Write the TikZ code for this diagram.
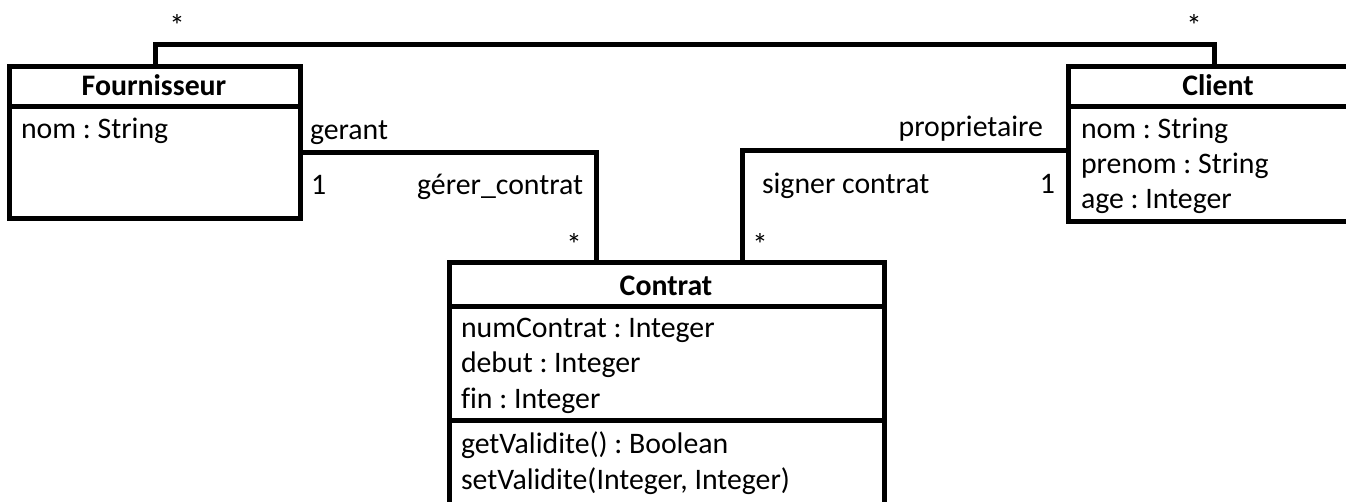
\documentclass[tikz,border=0pt]{standalone}
\usepackage{fontspec}
\setmainfont[Ligatures=NoCommon]{Carlito}
\frenchspacing
\begin{document}
\begin{tikzpicture}[x=1pt, y=-1pt,
  box/.style={draw, line width=5pt, rectangle, inner sep=0pt, outer sep=0pt, anchor=north west},
  assoc/.style={line width=5pt},
  txt/.style={inner sep=0pt, outer sep=0pt, anchor=base west, font=\fontsize{29.8}{35}\selectfont},
  txtr/.style={txt, anchor=base east},
  ttl/.style={inner sep=0pt, outer sep=0pt, anchor=base, font=\fontsize{29.8}{35}\selectfont\bfseries},
  mult/.style={inner sep=0pt, outer sep=0pt, anchor=base, font=\fontsize{31}{35}\selectfont}]
\useasboundingbox (0,0) rectangle (1346,501);
\clip (0,0) rectangle (1346,501);

% class boxes
\node[box, minimum width=291pt, minimum height=152pt] (F) at (9,66) {};
\node[box, minimum width=300pt, minimum height=155pt] (C) at (1068,66) {};
\node[box, minimum width=435pt, minimum height=250pt] (K) at (449,262) {};

% compartment separators
\draw[assoc] ([yshift=-40pt]F.north west) -- ([yshift=-40pt]F.north east);
\draw[assoc] ([yshift=-40pt]C.north west) -- ([yshift=-40pt]C.north east);
\draw[assoc] ([yshift=-44pt]K.north west) -- ([yshift=-44pt]K.north east);
\draw[assoc] ([yshift=-158pt]K.north west) -- ([yshift=-158pt]K.north east);

% class names
\node[ttl] (Fn) at (154,95) {Fournisseur};
\node[ttl] (Cn) at (1218,95) {Client};
\node[ttl] (Kn) at (666,295) {Contrat};

% attributes and operations
\node[txt] (Fa1) at (21,138) {nom : String};
\node[txt] (Ca1) at (1081,138) {nom : String};
\node[txt] (Ca2) at (1081,173) {prenom : String};
\node[txt] (Ca3) at (1081,208) {age : Integer};
\node[txt] (Ka1) at (461,337) {numContrat : Integer};
\node[txt] (Ka2) at (461,372) {debut : Integer};
\node[txt] (Ka3) at (461,408) {fin : Integer};
\node[txt] (Ko1) at (461,453) {getValidite() : Boolean};
\node[txt] (Ko2) at (461,489) {setValidite(Integer, Integer)};

% associations
\draw[assoc] ([xshift=146pt]F.north west) -- ++(0,-22) -| ([xshift=146pt]C.north west);
\draw[assoc] ([yshift=-86pt]F.north east) -| ([xshift=147pt]K.north west);
\draw[assoc] ([yshift=-84pt]C.north west) -| ([xshift=293pt]K.north west);

% association labels and multiplicities
\node[mult] (m1) at (177,36) {*};
\node[mult] (m2) at (1194,36) {*};
\node[txt] (rg) at (310,139) {gerant};
\node[txt] (m3) at (311,194) {1};
\node[txtr] (ag) at (583,194) {gérer\_contrat};
\node[mult] (m4) at (574,255) {*};
\node[txtr] (rp) at (1043,136) {proprietaire};
\node[txt] (as) at (762,193) {signer contrat};
\node[txtr] (m5) at (1055,193) {1};
\node[mult] (m6) at (760,255) {*};
\end{tikzpicture}
\end{document}
